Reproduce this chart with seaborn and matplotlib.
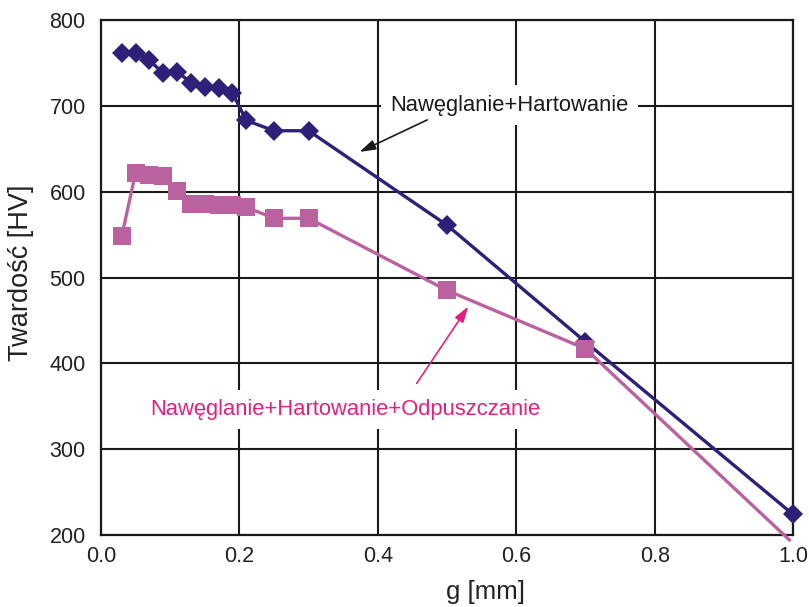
import numpy as np
import pandas as pd
import matplotlib
matplotlib.use("Agg")
import matplotlib.pyplot as plt
import seaborn as sns

# Data
g_ht = [0.03, 0.05, 0.07, 0.09, 0.11, 0.13, 0.15, 0.17, 0.19, 0.21, 0.25, 0.30, 0.50, 0.70, 1.00]
hv_ht = [762, 762, 753, 738, 740, 727, 722, 721, 715, 683, 671, 671, 561, 425, 224]

g_hto = [0.03, 0.05, 0.07, 0.09, 0.11, 0.13, 0.15, 0.17, 0.19, 0.21, 0.25, 0.30, 0.50, 0.70, 0.995]
hv_hto = [548, 622, 620, 618, 601, 586, 586, 585, 584, 582, 569, 569, 485, 417, 194]

label_ht = "Nawęglanie+Hartowanie"
label_hto = "Nawęglanie+Hartowanie+Odpuszczanie"
x_ticks = [0.0, 0.2, 0.4, 0.6, 0.8, 1.0]
x_tick_labels = ["0.0", "0.2", "0.4", "0.6", "0.8", "1.0"]
y_ticks = [200, 300, 400, 500, 600, 700, 800]

sns.set_theme(style="white")
plt.rcParams['font.family'] = ['Liberation Sans', 'DejaVu Sans']

navy = "#2E1F78"
pink = "#BA62A0"
pink_text = "#E2207F"

fig = plt.figure(figsize=(8.09, 6.07), dpi=100)
ax = fig.add_axes([0.1248, 0.1186, 0.8555, 0.8484])

df_ht = pd.DataFrame({"g": g_ht, "hv": hv_ht})
df_hto = pd.DataFrame({"g": g_hto, "hv": hv_hto})

sns.lineplot(data=df_ht, x="g", y="hv", ax=ax, sort=False, color=navy, lw=2.4,
             marker="D", markersize=10.5, markeredgewidth=0, clip_on=False, zorder=4)
sns.lineplot(data=df_hto, x="g", y="hv", ax=ax, sort=False, color=pink, lw=2.4,
             marker="s", markersize=13.5, markeredgewidth=0, markevery=list(range(len(g_hto) - 1)),
             clip_on=False, zorder=5)

ax.set_xlim(0, 1.0)
ax.set_ylim(200, 800)
ax.set_xticks(x_ticks)
ax.set_xticklabels(x_tick_labels)
ax.set_yticks(y_ticks)
ax.grid(True, color="#1a1a1a", lw=1.5)
ax.set_axisbelow(True)
for s in ax.spines.values():
    s.set_color("#1a1a1a")
    s.set_linewidth(1.6)
ax.tick_params(axis="both", length=0, labelsize=15.5, labelcolor="#222222")
ax.tick_params(axis="x", pad=8)
ax.tick_params(axis="y", pad=11)

ax.set_xlabel("g [mm]", fontsize=18.5, color="#222222", va="center")
ax.set_ylabel("Twardość [HV]", fontsize=19.5, color="#222222", va="center")
ax.xaxis.set_label_coords(0.555, -0.11)
ax.yaxis.set_label_coords(-0.116, 0.51)

ax.annotate("", xy=(0.370, 645), xytext=(0.475, 685),
            arrowprops=dict(arrowstyle="-|>,head_length=0.8,head_width=0.25", color="#1a1a1a", lw=1.2),
            zorder=6)
ax.text(0.59, 701, label_ht, fontsize=15.8, color="#1a1a1a", ha="center", va="center",
        bbox=dict(boxstyle="square,pad=0.42", fc="white", ec="none"), zorder=3)

ax.annotate("", xy=(0.533, 469), xytext=(0.454, 374),
            arrowprops=dict(arrowstyle="-|>,head_length=0.8,head_width=0.25", color=pink_text, lw=1.2),
            zorder=6)
ax.text(0.353, 346, label_hto, fontsize=15.8, color=pink_text, ha="center", va="center",
        bbox=dict(boxstyle="square,pad=0.42", fc="white", ec="none"), zorder=3)

fig.savefig("out.png", dpi=100)
